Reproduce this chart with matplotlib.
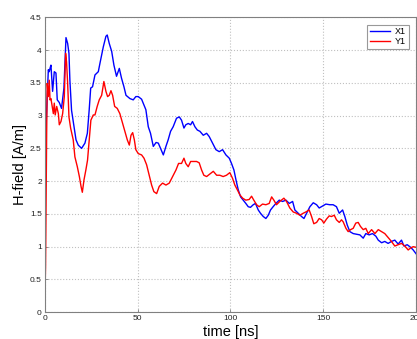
import matplotlib
matplotlib.use("Agg")
import matplotlib.pyplot as plt

t_x1 = [0, 0.5, 2, 2.5, 2.9, 3.4, 4.3, 5.2, 6.1, 6.8, 7.9, 9.1, 10.4, 11.5, 12.4, 13.1, 13.6, 14.5,
        15.8, 16.9, 18.1, 19.9, 21.7, 23, 24, 24.8, 25.8, 27.1, 28.9, 29.8, 31.6, 33, 33.7, 34.8,
        36.1, 37.3, 38.7, 40.2, 41.4, 42.7, 43.8, 45.9, 47.7, 49.1, 50.4, 52.2, 53.5, 54.5, 55.8,
        57, 58.5, 60, 61.2, 62.4, 63.9, 65.3, 66.5, 67.8, 69.2, 71, 72.5, 73.7, 75, 76, 77.3, 78.6,
        79.6, 80.9, 82.2, 83.6, 85.4, 87.2, 88.6, 90.4, 92.2, 94, 95.8, 97.6, 99.4, 100.6, 101.9,
        103, 104.2, 105.5, 106.9, 108.3, 109.6, 110.8, 112.3, 113.5, 115, 116.2, 117.7, 119.1,
        120.4, 121.6, 123, 124.5, 126.3, 128.1, 129.9, 131.7, 133.5, 134.7, 136.5, 138.3, 139.6,
        141, 142.8, 144.6, 146.4, 147.8, 149.6, 151.4, 153.5, 155.3, 157.1, 158.6, 160.4, 161.6,
        162.9, 164.3, 166.1, 167.9, 169.7, 171.5, 172.9, 174.7, 176.5, 178.3, 179.6, 181.4, 183.1,
        184.9, 186.7, 188.5, 190.3, 192.1, 193.4, 195.2, 197, 198.4, 200]
x1 = [0, 2.65, 3.7, 3.67, 3.72, 3.77, 3.37, 3.67, 3.65, 3.24, 3.2, 3.11, 3.42, 4.19, 4.1, 3.95, 3.54,
      3.08, 2.83, 2.63, 2.55, 2.5, 2.58, 2.73, 3.09, 3.42, 3.44, 3.62, 3.67, 3.8, 4.05, 4.21, 4.23,
      4.10, 3.98, 3.77, 3.6, 3.72, 3.57, 3.44, 3.31, 3.26, 3.24, 3.29, 3.29, 3.25, 3.16, 3.09, 2.83,
      2.73, 2.53, 2.59, 2.58, 2.5, 2.4, 2.53, 2.63, 2.76, 2.83, 2.96, 2.98, 2.93, 2.81, 2.86, 2.88,
      2.86, 2.91, 2.83, 2.78, 2.76, 2.7, 2.73, 2.68, 2.58, 2.48, 2.45, 2.48, 2.4, 2.35, 2.27, 2.17,
      2.02, 1.87, 1.76, 1.71, 1.66, 1.61, 1.6, 1.64, 1.66, 1.56, 1.51, 1.46, 1.43, 1.48, 1.56, 1.61,
      1.66, 1.71, 1.69, 1.71, 1.66, 1.69, 1.56, 1.51, 1.46, 1.43, 1.51, 1.61, 1.67, 1.64, 1.59,
      1.62, 1.65, 1.64, 1.64, 1.61, 1.51, 1.56, 1.46, 1.33, 1.23, 1.2, 1.19, 1.18, 1.13, 1.2, 1.18,
      1.2, 1.16, 1.1, 1.06, 1.08, 1.05, 1.08, 1.1, 1.04, 1.1, 1.01, 1.03, 0.99, 0.95, 0.89]

t_y1 = [0, 0.5, 1.1, 1.4, 2, 2.5, 2.9, 3.4, 4.1, 4.7, 5.2, 5.7, 6.5, 7.4, 7.9, 8.8, 9.7, 10.6, 11.3,
        11.8, 12.4, 13.1, 14, 15.4, 16.3, 17.6, 18.7, 19.6, 20.3, 21.2, 22.2, 23.1, 24, 24.9, 26.2,
        27.1, 28.3, 29.4, 30.7, 31.9, 33, 33.9, 34.8, 35.7, 36.6, 37.7, 39.1, 40.5, 42, 43.2, 44.5,
        45.6, 46.5, 47.4, 48.3, 49.1, 50.4, 52.2, 53.5, 54.9, 56.3, 57.6, 58.8, 60.3, 61.7, 63.5,
        65.3, 67.1, 68.9, 70.7, 72.1, 73.7, 75, 76, 77.3, 78.6, 80, 81.8, 83.2, 84.5, 85.7, 87.2, 89,
        90.8, 92.6, 94.3, 96.1, 97.9, 99.7, 101.2, 102.4, 103.7, 105.1, 106.6, 108.3, 110.1, 111.4,
        112.6, 114.1, 115.5, 117.3, 119.1, 120.9, 122.2, 123.4, 124.8, 126.6, 128.8, 130.2, 132,
        133.8, 135.6, 137.4, 139.2, 140.6, 142.4, 143.7, 144.9, 146.4, 147.8, 149.1, 150.3, 151.7,
        153.2, 154.4, 155.9, 157.1, 158.6, 159.8, 160.7, 162.2, 163.4, 164.7, 166.1, 167.5, 168.8,
        170, 171.5, 172.9, 174.2, 176, 177.8, 179.6, 181.4, 183.1, 184.9, 186.7, 188.5, 190.3,
        192.1, 193.9, 195.7, 197, 198.4, 200]
y1 = [0, 0.7, 2.73, 3.49, 3.29, 3.54, 3.24, 3.26, 3.14, 3.03, 3.19, 3.01, 3.14, 3.03, 2.86, 2.91,
      3.03, 3.29, 3.95, 3.82, 3.49, 2.98, 2.81, 2.63, 2.37, 2.22, 2.07, 1.92, 1.83, 2.02, 2.17,
      2.32, 2.63, 2.93, 3.01, 3.01, 3.14, 3.24, 3.31, 3.52, 3.37, 3.29, 3.31, 3.38, 3.31, 3.14,
      3.11, 3.03, 2.88, 2.76, 2.63, 2.55, 2.7, 2.74, 2.63, 2.48, 2.42, 2.4, 2.35, 2.25, 2.09, 1.94,
      1.84, 1.81, 1.92, 1.97, 1.94, 1.97, 2.07, 2.17, 2.27, 2.27, 2.35, 2.27, 2.22, 2.3, 2.3, 2.3,
      2.28, 2.17, 2.09, 2.07, 2.11, 2.15, 2.09, 2.09, 2.07, 2.09, 2.13, 2.04, 1.94, 1.87, 1.79,
      1.74, 1.71, 1.72, 1.77, 1.71, 1.64, 1.61, 1.65, 1.64, 1.66, 1.76, 1.71, 1.64, 1.69, 1.74,
      1.69, 1.59, 1.53, 1.51, 1.48, 1.51, 1.53, 1.56, 1.46, 1.35, 1.37, 1.43, 1.41, 1.36, 1.42,
      1.47, 1.46, 1.48, 1.41, 1.37, 1.41, 1.38, 1.28, 1.23, 1.26, 1.28, 1.36, 1.37, 1.31, 1.26,
      1.28, 1.2, 1.26, 1.2, 1.26, 1.23, 1.2, 1.14, 1.08, 1.01, 1.03, 1.05, 1.01, 0.95, 0.98, 1.0,
      0.99]

series_labels = ["X1", "Y1"]
xticks = [0, 50, 100, 150, 200]
yticks = [0, 0.5, 1, 1.5, 2, 2.5, 3, 3.5, 4, 4.5]

plt.rcParams['font.family'] = ['Liberation Sans', 'DejaVu Sans']

fig = plt.figure(figsize=(4.17, 3.39), dpi=100)
ax = fig.add_axes([0.107, 0.079, 0.891, 0.870])
ax.plot(t_x1, x1, color='#0000ff', lw=1.0, label=series_labels[0])
ax.plot(t_y1, y1, color='#ff0000', lw=1.0, label=series_labels[1])

ax.set_xlim(0, 200)
ax.set_ylim(0, 4.5)
ax.set_xticks(xticks)
ax.set_xticklabels([str(v) for v in xticks])
ax.set_yticks(yticks)
ax.set_yticklabels([f"{v:g}" for v in yticks])
ax.grid(True, linestyle=':', color='#c0c0c0', linewidth=0.8)
for s in ax.spines.values():
    s.set_color('#808080')
    s.set_linewidth(0.8)
ax.tick_params(direction='in', length=2, width=0.6, colors='#808080', labelcolor='#222222',
               labelsize=6, pad=2)
ax.set_xlabel('time [ns]', fontsize=10.5, labelpad=2)
ax.set_ylabel('H-field [A/m]', fontsize=10.5, labelpad=2)
leg = ax.legend(loc='upper right', fontsize=6.5, fancybox=False, handlelength=2.2,
                borderpad=0.3, labelspacing=0.1, handletextpad=0.6, borderaxespad=0.8)
leg.get_frame().set_edgecolor('#808080')
leg.get_frame().set_linewidth(0.8)

fig.savefig('out.png', dpi=100)
